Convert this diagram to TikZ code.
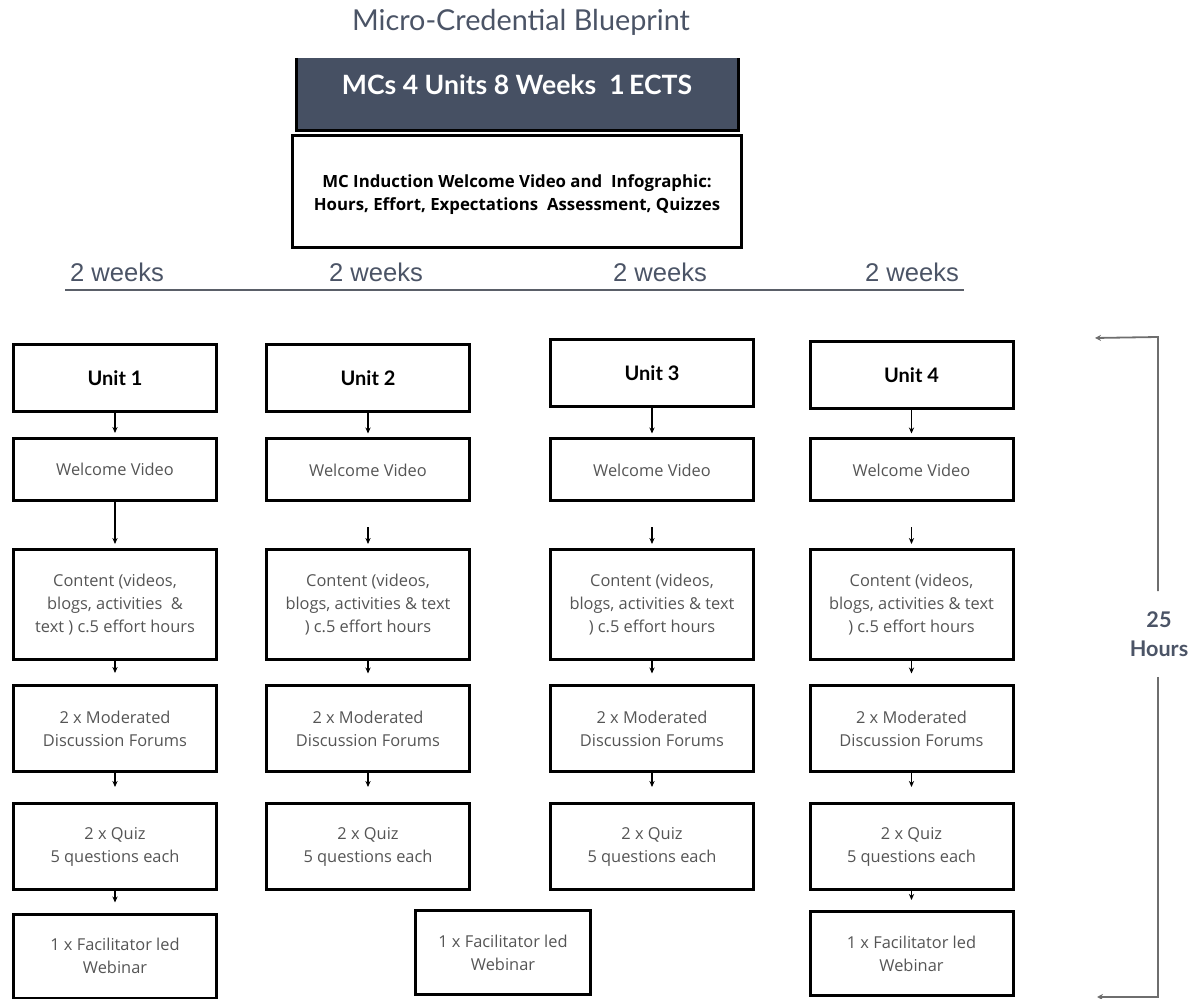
\documentclass[tikz,border=0pt]{standalone}
\usepackage{fontspec}
\setmainfont{Open Sans}
\newfontfamily\latofont{Lato}
\newfontfamily\arialfont{Liberation Sans}
\usetikzlibrary{arrows.meta}
\definecolor{slate}{HTML}{4B5466}
\definecolor{boxdark}{HTML}{465063}
\definecolor{bodygray}{HTML}{555555}
\definecolor{brk}{HTML}{6E6E6E}
\definecolor{rulegray}{HTML}{5A5F68}
\begin{document}
\begin{tikzpicture}[x=0.5pt,y=-0.5pt,
  box/.style={draw=black, line width=1.5pt, minimum width=101.5pt, align=center, inner sep=0pt,
    font=\fontsize{8.2}{11.5}\selectfont, text=bodygray},
  unitbox/.style={box, minimum height=33.5pt, font=\latofont\bfseries\fontsize{10}{12}\selectfont, text=black},
  wbox/.style={box, minimum height=31pt},
  cbox/.style={box, minimum height=55pt},
  mbox/.style={box, minimum height=43pt},
  webbox/.style={box, minimum height=42pt},
  arr/.style={-{Stealth[length=3pt,width=2.6pt]}, line width=0.6pt, shorten >=2pt},
  weeks/.style={font=\arialfont\fontsize{12.8}{15}\selectfont, text=slate},
  brkline/.style={draw=brk, line width=0.9pt},
]
\useasboundingbox (0,0) rectangle (1195,999);

% title
\node[font=\latofont\fontsize{14.4}{17}\selectfont, text=slate] (title) at (521,22) {Micro-Credential Blueprint};

% header box
\fill[boxdark] (296,58) rectangle (739,131);
\draw[line width=1.5pt] (296.5,58) -- (296.5,131) -- (738.5,131) -- (738.5,58);
\node[font=\latofont\bfseries\fontsize{13.3}{16}\selectfont, text=white] (mc) at (517,85) {MCs 4 Units 8 Weeks~ 1\,ECTS};

\node[draw=black, line width=1.5pt, minimum width=224.5pt, minimum height=56pt, align=center, inner sep=0pt,
  font=\bfseries\fontsize{8.4}{11.5}\selectfont] (ind) at (517,191.5)
  {\rule{0pt}{9.4pt}MC Induction Welcome Video and~ Infographic:\\Hours, Effort, Expectations~ Assessment, Quizzes};

% weeks
\node[weeks] (wk1) at (117,272) {2 weeks};
\node[weeks] (wk2) at (376,272) {2 weeks};
\node[weeks] (wk3) at (660,272) {2 weeks};
\node[weeks] (wk4) at (912,272) {2 weeks};
\coordinate (rulel) at (65,290);
\coordinate (ruler) at (964,290);
\draw[draw=rulegray, line width=0.8pt] (rulel) -- (ruler);

% units
\node[unitbox] (u1) at (115,378) {Unit 1};
\node[unitbox] (u2) at (368,378) {Unit 2};
\node[unitbox] (u3) at (652,373) {Unit 3};
\node[unitbox] (u4) at (911.5,375) {Unit 4};

\node[wbox] (w1) at (115,469.5) {Welcome Video};
\node[wbox] (w2) at (368,470) {Welcome Video};
\node[wbox] (w3) at (652,470) {Welcome Video};
\node[wbox] (w4) at (911.5,470) {Welcome Video};

\node[cbox] (c1) at (115,604.5) {Content (videos,\\blogs, activities~ \&\\text ) c.5 effort hours};
\node[cbox] (c2) at (368,604.5) {Content (videos,\\blogs, activities \& text\\) c.5 effort hours};
\node[cbox] (c3) at (652,604.5) {Content (videos,\\blogs, activities \& text\\) c.5 effort hours};
\node[cbox] (c4) at (911.5,604.5) {Content (videos,\\blogs, activities \& text\\) c.5 effort hours};

\node[mbox] (m1) at (115,728.5) {2 x Moderated\\Discussion Forums};
\node[mbox] (m2) at (368,729) {2 x Moderated\\Discussion Forums};
\node[mbox] (m3) at (652,729) {2 x Moderated\\Discussion Forums};
\node[mbox] (m4) at (911.5,729) {2 x Moderated\\Discussion Forums};

\node[mbox] (q1) at (115,846.5) {2 x Quiz\\5 questions each};
\node[mbox] (q2) at (368,846.5) {2 x Quiz\\5 questions each};
\node[mbox] (q3) at (652,846.5) {2 x Quiz\\5 questions each};
\node[mbox] (q4) at (911.5,846.5) {2 x Quiz\\5 questions each};

\node[webbox] (web1) at (115,956) {1 x Facilitator led\\Webinar};
\node[webbox, minimum width=87.5pt] (webm) at (503,952.5) {1 x Facilitator led\\Webinar};
\node[webbox] (web4) at (911.5,953.5) {1 x Facilitator led\\Webinar};

% arrows
\foreach \i in {1,2,3,4}{
  \draw[arr] (u\i.south) -- (w\i.north);
  \draw[arr, shorten >=5.5pt] (c\i.south) -- (m\i.north);
  \draw[arr, shorten >=7.5pt] (m\i.south) -- (q\i.north);
}
\draw[arr] (w1.south) -- (c1.north);
\foreach \i in {2,3,4}{
  \draw[arr, shorten <=12.5pt] (w\i.south) -- (c\i.north);
}
\draw[arr, shorten >=5pt] (q1.south) -- (web1.north);
\draw[arr, shorten >=5pt] (q4.south) -- (web4.north);

% 25 hours bracket
\node[font=\latofont\bfseries\fontsize{10.8}{14.5}\selectfont, text=slate, align=center, inner xsep=0pt, inner ysep=10pt] (hrs) at (1159,634) {25\\Hours};
\coordinate (bt) at (1158,337);
\coordinate (btl) at (1095,338);
\coordinate (bb) at (1158,997);
\coordinate (bbl) at (1097,997);
\draw[brkline, -{Stealth[length=3pt,width=3pt]}] (hrs.north -| bt) -- (bt) -- (btl);
\draw[brkline, -{Stealth[length=3pt,width=3pt]}] (hrs.south -| bb) -- (bb) -- (bbl);
\end{tikzpicture}
\end{document}
